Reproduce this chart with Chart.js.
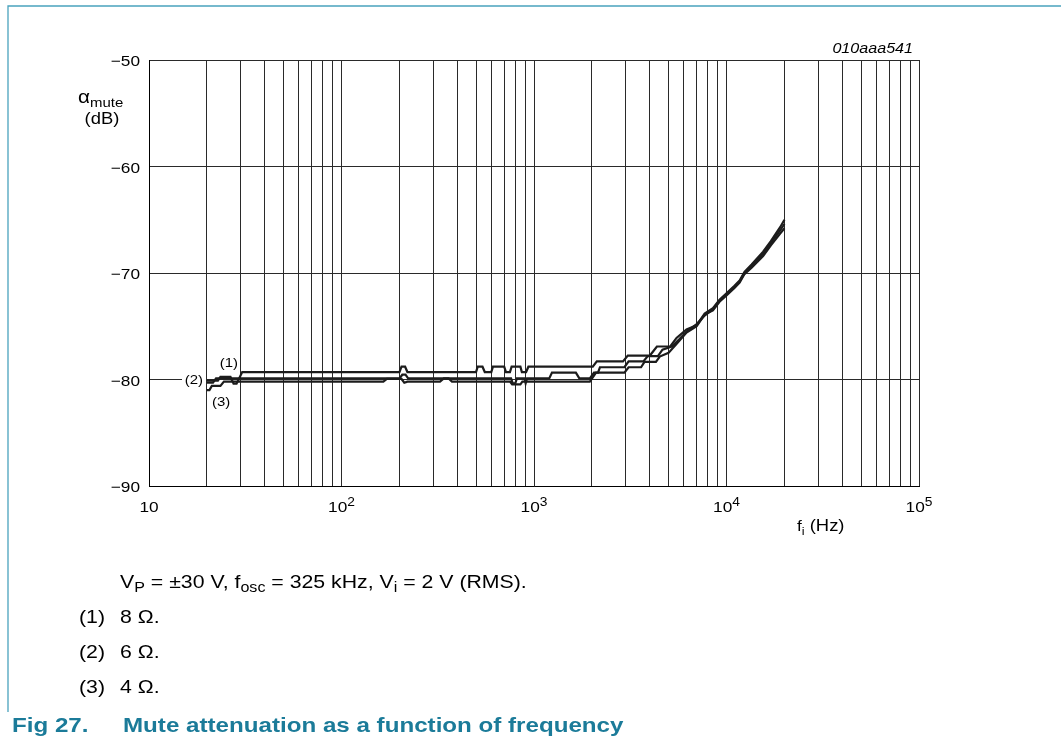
<!DOCTYPE html>
<html>
<head>
<meta charset="utf-8">
<script src="https://cdn.jsdelivr.net/npm/chart.js@4"></script>
<style>
  html, body { margin: 0; padding: 0; background: #fff; }
  #wrap { width: 1061px; height: 746px; }
</style>
</head>
<body>
<div id="wrap"><canvas id="mute" width="1061" height="746"></canvas></div>
<script>
// curve (1) 8 ohm
const freq8 = [20, 22.8, 23.5, 26.5, 27.5, 28.5, 30.5, 200, 205, 214, 220, 500, 510, 540, 555, 600, 612, 700, 715, 750,
  765, 850, 865, 910, 935, 2020, 2120, 2900, 3070, 4000, 4350, 5100, 5500, 6200, 7000, 7700, 8500, 9200, 10000, 11000,
  11700, 12400, 13500, 15500, 17000, 19000, 20000];
const att8 = [-80.1, -80.1, -79.75, -79.75, -80.4, -80.4, -79.3, -79.3, -78.8, -78.8, -79.3, -79.3, -78.8, -78.8, -79.3, -79.3, -78.8, -78.8, -79.3, -79.3,
  -78.8, -78.8, -79.3, -79.3, -78.8, -78.8, -78.3, -78.3, -77.75, -77.75, -76.9, -76.9, -76.1, -75.3, -74.9, -73.8, -73.3, -72.5, -71.9, -71.2,
  -70.7, -69.9, -69.2, -68.0, -67.0, -65.7, -65.0];

// curve (2) 6 ohm
const freq6 = [20, 21.5, 22.3, 200, 207, 215, 222, 760, 775, 800, 815, 895, 905, 920,
  1200, 1240, 1650, 1720, 1950, 2050, 2150, 2200, 2950, 3100, 3700, 3900, 4400, 4650, 5200, 5700,
  6200, 7000, 7700, 8500, 9200, 10000, 11000, 11700, 12400, 13500, 15500, 17000, 19000, 20000];
const att6 = [-80.3, -80.3, -79.9, -79.9, -79.55, -79.55, -79.9, -79.9, -80.35, -80.35, -79.9, -79.9, -80.35, -79.9,
  -79.9, -79.35, -79.35, -79.9, -79.9, -79.35, -79.35, -78.85, -78.85, -78.3, -78.3, -77.8, -77.8, -77.2, -76.9, -76.2,
  -75.5, -74.8, -74.0, -73.4, -72.6, -72.0, -71.3, -70.8, -70.0, -69.4, -68.2, -67.2, -66.0, -65.4];

// curve (3) 4 ohm
const freq4 = [20, 20.6, 21.2, 23.5, 24.5, 165, 172, 205, 212, 220, 325, 340, 360, 375, 750, 770, 850, 870,
  1950, 2100, 2950, 3100, 3600, 3750, 4300, 4500, 5000, 5600, 6200, 7000, 7700, 8500, 9200, 10000,
  11000, 11700, 12400, 13500, 15500, 17000, 19000, 20000];
const att4 = [-81.0, -81.0, -80.6, -80.6, -80.2, -80.2, -79.95, -79.95, -80.3, -80.2, -80.2, -79.9, -79.9, -80.2, -80.2, -80.45, -80.45, -80.2,
  -80.2, -79.35, -79.35, -78.85, -78.85, -78.35, -78.35, -77.85, -77.5, -76.5, -75.6, -75.0, -73.9, -73.5, -72.7, -72.1,
  -71.4, -70.9, -70.1, -69.5, -68.4, -67.4, -66.3, -65.8];

const yTicks = [-90, -80, -70, -60, -50];
const xLabelVals = [10, 100, 1000, 10000, 100000];
const xLabelExps = ['', '2', '3', '4', '5'];

const xGrid = [];
for (const d of [10, 100, 1000, 10000]) {
  for (let m = 1; m < 10; m++) xGrid.push(m * d);
}
xGrid.push(100000);

const FONT = "'Liberation Sans', Arial, sans-serif";
const SX = 1.15; // text in the picture is a bit wide
const TEAL = '#1b7b99';

function pts(fs, as) {
  return fs.map((f, i) => ({ x: f, y: as[i] }));
}

// draw runs of text: parts = [[text, size, dy, style]]
function runs(ctx, parts, x, y, align, color) {
  ctx.save();
  ctx.fillStyle = color || '#000';
  ctx.textAlign = 'left';
  ctx.textBaseline = 'alphabetic';
  let w = 0;
  for (const p of parts) {
    ctx.font = (p[3] || '') + ' ' + p[1] + 'px ' + FONT;
    w += ctx.measureText(p[0]).width * SX;
  }
  let cx = align === 'right' ? x - w : align === 'center' ? x - w / 2 : x;
  for (const p of parts) {
    ctx.font = (p[3] || '') + ' ' + p[1] + 'px ' + FONT;
    const pw = ctx.measureText(p[0]).width * SX;
    ctx.save();
    ctx.translate(cx, y + (p[2] || 0));
    ctx.scale(SX, 1);
    ctx.fillText(p[0], 0, 0);
    ctx.restore();
    cx += pw;
  }
  ctx.restore();
  return w;
}

const deco = {
  id: 'deco',
  beforeDraw(chart) {
    const ctx = chart.ctx;
    ctx.save();
    ctx.fillStyle = '#fff';
    ctx.fillRect(0, 0, chart.width, chart.height);
    ctx.restore();
  },
  afterDraw(chart) {
    const ctx = chart.ctx;
    const xs = chart.scales.x, ys = chart.scales.y;

    // frame of the page
    ctx.save();
    ctx.strokeStyle = '#4aa3bd';
    ctx.lineWidth = 1.3;
    ctx.beginPath();
    ctx.moveTo(8, 712); ctx.lineTo(8, 6); ctx.lineTo(1061, 6);
    ctx.stroke();
    ctx.restore();

    // y tick labels
    yTicks.forEach(v => {
      runs(ctx, [['\u2212' + Math.abs(v), 15]], 140, ys.getPixelForValue(v) + 6, 'right');
    });
    // x tick labels with exponents
    xLabelVals.forEach((v, i) => {
      const px = xs.getPixelForValue(v);
      const parts = [['10', 15, 0]];
      if (xLabelExps[i]) parts.push([xLabelExps[i], 12, -6.5]);
      runs(ctx, parts, px, 512, 'center');
    });

    // axis titles
    runs(ctx, [['\u03b1', 18, 0], ['mute', 13, 3.5]], 78, 103, 'left');
    runs(ctx, [['(dB)', 16]], 102, 124, 'center');
    runs(ctx, [['f', 15, 0], ['i', 11, 3.5], [' (Hz)', 16, 0]], 797, 531, 'left');

    // figure code
    runs(ctx, [['010aaa541', 14, 0, 'italic']], 913, 53, 'right');

    // curve labels
    ctx.save();
    ctx.fillStyle = '#fff';
    ctx.fillRect(182, ys.getPixelForValue(-80) - 6, 24, 12);
    ctx.restore();
    runs(ctx, [['(1)', 13]], xs.getPixelForValue(26), ys.getPixelForValue(-78.36) + 4.5, 'center');
    runs(ctx, [['(2)', 13]], xs.getPixelForValue(17.1), ys.getPixelForValue(-80) + 4.5, 'center');
    runs(ctx, [['(3)', 13]], xs.getPixelForValue(23.7), ys.getPixelForValue(-82.1) + 4.5, 'center');

    // notes under the chart
    runs(ctx, [['V', 18.5], ['P', 14, 4], [' = \u00b130 V, f', 18.5], ['osc', 14, 4],
      [' = 325 kHz, V', 18.5], ['i', 14, 4], [' = 2 V (RMS).', 18.5]], 120, 588, 'left');
    const notes = [['(1)', '8 \u03a9.'], ['(2)', '6 \u03a9.'], ['(3)', '4 \u03a9.']];
    notes.forEach((n, i) => {
      runs(ctx, [[n[0], 18.5]], 79, 623 + i * 35, 'left');
      runs(ctx, [[n[1], 18.5]], 120, 623 + i * 35, 'left');
    });
    runs(ctx, [['Fig 27.', 21, 0, 'bold']], 12, 732, 'left', TEAL);
    runs(ctx, [['Mute attenuation as a function of frequency', 21, 0, 'bold']], 123, 732, 'left', TEAL);
  }
};

const lineStyle = { borderColor: '#1c1c1c', borderWidth: 2.2, pointRadius: 0, tension: 0, fill: false };

new Chart(document.getElementById('mute'), {
  type: 'line',
  data: {
    datasets: [
      Object.assign({ label: '(1) 8 \u03a9', data: pts(freq8, att8) }, lineStyle),
      Object.assign({ label: '(2) 6 \u03a9', data: pts(freq6, att6) }, lineStyle),
      Object.assign({ label: '(3) 4 \u03a9', data: pts(freq4, att4) }, lineStyle)
    ]
  },
  options: {
    responsive: false,
    animation: false,
    devicePixelRatio: 1,
    layout: { padding: { left: 149, right: 142, top: 60, bottom: 260 } },
    plugins: { legend: { display: false }, tooltip: { enabled: false } },
    scales: {
      x: {
        type: 'logarithmic',
        min: 10,
        max: 100000,
        afterBuildTicks: s => { s.ticks = xGrid.map(v => ({ value: v })); },
        afterFit: s => { s.height = 0; },
        ticks: { display: false },
        grid: { color: '#2a2a2a', lineWidth: 1, drawTicks: false },
        border: { display: true, color: '#000', width: 1 }
      },
      y: {
        type: 'linear',
        min: -90,
        max: -50,
        afterBuildTicks: s => { s.ticks = yTicks.map(v => ({ value: v })); },
        afterFit: s => { s.width = 0; },
        ticks: { display: false },
        grid: { color: '#2a2a2a', lineWidth: 1, drawTicks: false },
        border: { display: true, color: '#000', width: 1 }
      }
    }
  },
  plugins: [deco]
});
</script>
</body>
</html>
